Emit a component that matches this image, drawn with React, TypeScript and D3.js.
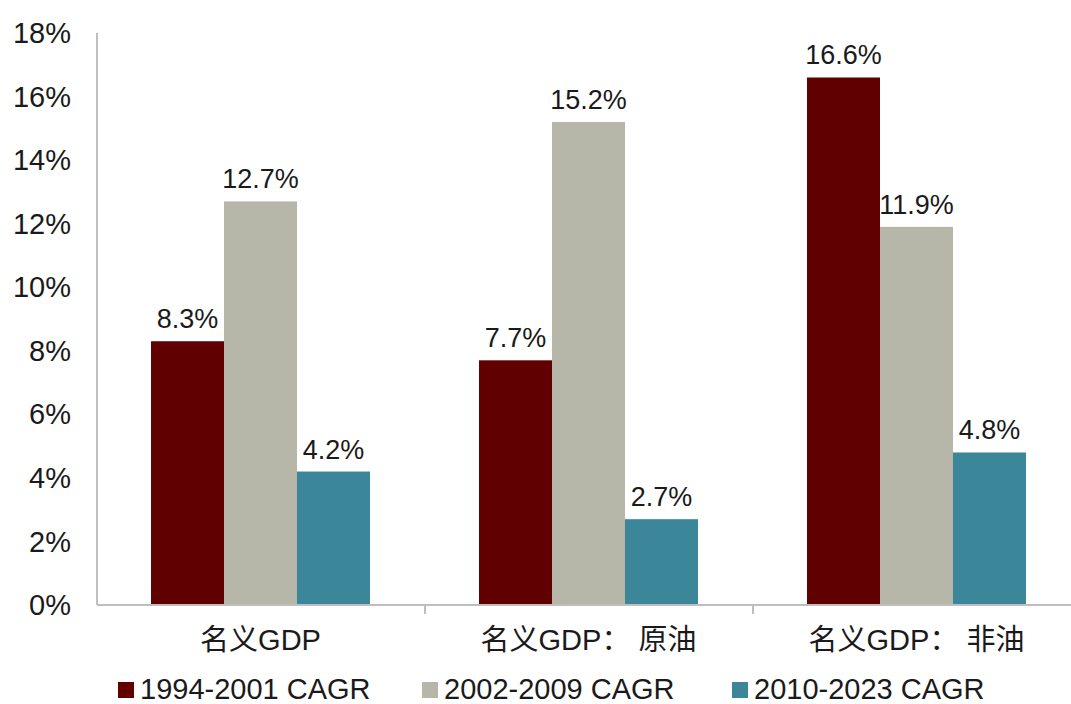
import React, { useEffect, useRef } from "react";
import * as d3 from "d3";

const categories = ["名义GDP", "名义GDP：原油", "名义GDP：非油"];
const seriesNames = ["1994-2001 CAGR", "2002-2009 CAGR", "2010-2023 CAGR"];
const seriesColors = ["#600000", "#b6b6a9", "#3b8698"];
const period1 = [8.3, 7.7, 16.6];
const period2 = [12.7, 15.2, 11.9];
const period3 = [4.2, 2.7, 4.8];
const yTicks = [0, 2, 4, 6, 8, 10, 12, 14, 16, 18];

const width = 1071;
const height = 704;

const App: React.FC = () => {
  const svgRef = useRef<SVGSVGElement>(null);

  useEffect(() => {
    if (!svgRef.current) return;
    const svg = d3.select(svgRef.current);
    svg.selectAll("*").remove();

    const font = "'Liberation Sans', Arial, 'Noto Sans CJK SC', sans-serif";
    const margin = { top: 33, left: 97, bottom: 99 };
    const bandW = 328;
    const innerHeight = height - margin.top - margin.bottom;

    const series = [period1, period2, period3];

    const x0 = d3.scaleBand()
      .domain(categories)
      .range([margin.left, margin.left + bandW * 3])
      .paddingInner(0)
      .paddingOuter(0);

    const x1 = d3.scaleBand()
      .domain(seriesNames)
      .range([54, 54 + 219]);

    const y = d3.scaleLinear()
      .domain([0, 18])
      .range([margin.top + innerHeight, margin.top]);

    // bars
    const groups = svg.append("g")
      .selectAll("g")
      .data(categories)
      .join("g")
      .attr("transform", d => `translate(${x0(d)}, 0)`);

    groups.selectAll("rect")
      .data((d, i) => seriesNames.map((s, j) => ({ key: s, value: series[j][i], j })))
      .join("rect")
      .attr("x", d => x1(d.key) || 0)
      .attr("y", d => y(d.value))
      .attr("width", x1.bandwidth())
      .attr("height", d => y(0) - y(d.value))
      .attr("fill", d => seriesColors[d.j]);

    // value labels
    groups.selectAll("text")
      .data((d, i) => seriesNames.map((s, j) => ({ key: s, value: series[j][i] })))
      .join("text")
      .attr("x", d => (x1(d.key) || 0) + x1.bandwidth() / 2)
      .attr("y", d => y(d.value) - 13)
      .attr("text-anchor", "middle")
      .attr("font-family", font)
      .attr("font-size", 27)
      .attr("fill", "#1a1a1a")
      .text(d => d.value.toFixed(1) + "%");

    // y axis
    svg.append("line")
      .attr("x1", margin.left).attr("x2", margin.left)
      .attr("y1", y(18)).attr("y2", y(0))
      .attr("stroke", "#bfbfbf").attr("stroke-width", 2);

    svg.append("g")
      .selectAll("text")
      .data(yTicks)
      .join("text")
      .attr("x", 71)
      .attr("y", d => y(d))
      .attr("dy", "0.35em")
      .attr("text-anchor", "end")
      .attr("font-family", font)
      .attr("font-size", 29)
      .attr("fill", "#1a1a1a")
      .text(d => d + "%");

    // x axis
    svg.append("line")
      .attr("x1", margin.left).attr("x2", width)
      .attr("y1", y(0)).attr("y2", y(0))
      .attr("stroke", "#bfbfbf").attr("stroke-width", 2);

    svg.append("g")
      .selectAll("line")
      .data(categories.slice(1))
      .join("line")
      .attr("x1", d => x0(d) || 0).attr("x2", d => x0(d) || 0)
      .attr("y1", y(0)).attr("y2", y(0) + 9)
      .attr("stroke", "#bfbfbf").attr("stroke-width", 2);

    svg.append("g")
      .selectAll("text")
      .data(categories)
      .join("text")
      .attr("x", d => (x0(d) || 0) + 54 + 219 / 2)
      .attr("y", 650)
      .attr("text-anchor", "middle")
      .attr("font-family", font)
      .attr("font-size", 29)
      .attr("fill", "#1a1a1a")
      .style("white-space", "pre")
      .text(d => d.replace("：", "： "));

    // legend
    const legendX = [118, 422, 732];
    const legend = svg.append("g")
      .selectAll("g")
      .data(seriesNames)
      .join("g")
      .attr("transform", (d, i) => `translate(${legendX[i]}, 682)`);

    legend.append("rect")
      .attr("width", 16)
      .attr("height", 16)
      .attr("fill", (d, i) => seriesColors[i]);

    legend.append("text")
      .attr("x", 22)
      .attr("y", 17)
      .attr("font-family", font)
      .attr("font-size", 29)
      .attr("fill", "#1a1a1a")
      .text(d => d);
  }, []);

  return (
    <div style={{ position: "absolute", left: 0, top: 0, background: "#fff" }}>
      <svg ref={svgRef} width={width} height={height}></svg>
    </div>
  );
};

export default App;
